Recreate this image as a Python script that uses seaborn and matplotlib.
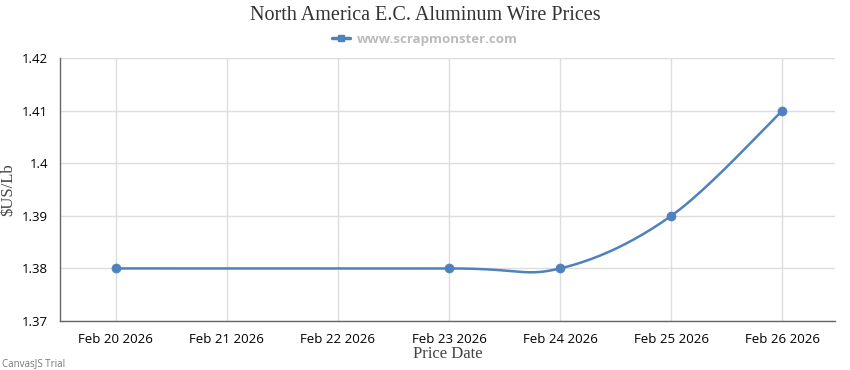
import numpy as np
import pandas as pd
import matplotlib
matplotlib.use("Agg")
import matplotlib.pyplot as plt
import matplotlib.dates as mdates
from matplotlib.lines import Line2D
import seaborn as sns

# data
dates = ["2026-02-20", "2026-02-23", "2026-02-24", "2026-02-25", "2026-02-26"]
prices = [1.38, 1.38, 1.38, 1.39, 1.41]
tick_dates = ["2026-02-20", "2026-02-21", "2026-02-22", "2026-02-23",
              "2026-02-24", "2026-02-25", "2026-02-26"]
y_ticks = [1.37, 1.38, 1.39, 1.40, 1.41, 1.42]
y_labels = ["1.37", "1.38", "1.39", "1.4", "1.41", "1.42"]

data = pd.DataFrame({"date": pd.to_datetime(dates), "price": prices})
color = "#4f81bc"

# spline line like CanvasJS (Catmull-Rom -> cubic bezier segments)
xs = mdates.date2num(data["date"])
ys = np.array(prices)
px, py = [], []
n = len(xs)
t = np.linspace(0, 1, 40)
for i in range(n - 1):
    i0, i3 = max(i - 1, 0), min(i + 2, n - 1)
    p0 = np.array([xs[i], ys[i]])
    p3 = np.array([xs[i + 1], ys[i + 1]])
    c1 = p0 + (np.array([xs[i + 1], ys[i + 1]]) - np.array([xs[i0], ys[i0]])) / 6
    c2 = p3 - (np.array([xs[i3], ys[i3]]) - np.array([xs[i], ys[i]])) / 6
    bx = (1-t)**3*p0[0] + 3*(1-t)**2*t*c1[0] + 3*(1-t)*t**2*c2[0] + t**3*p3[0]
    by = (1-t)**3*p0[1] + 3*(1-t)**2*t*c1[1] + 3*(1-t)*t**2*c2[1] + t**3*p3[1]
    px.extend(bx)
    py.extend(by)
curve = pd.DataFrame({"date": mdates.num2date(px), "price": py})

sns.set_style("white")
plt.rcParams['font.family'] = ['Open Sans', 'DejaVu Sans']

fig = plt.figure(figsize=(8.5, 3.7), dpi=100)
ax = fig.add_axes([0.0706, 0.1324, 0.9114, 0.7106])

sns.lineplot(data=curve, x="date", y="price", sort=False, color=color,
             linewidth=1.8, ax=ax, zorder=3)
sns.scatterplot(data=data, x="date", y="price", color=color, s=42,
                edgecolor=color, ax=ax, zorder=4)

ax.set_ylim(1.37, 1.42)
ax.set_yticks(y_ticks)
ax.set_yticklabels(y_labels)
td = pd.to_datetime(tick_dates)
ax.set_xticks(td)
ax.set_xticklabels([d.strftime("%b %d %Y") for d in td])
ax.set_xlim(td[0] - pd.Timedelta(hours=12), td[-1] + pd.Timedelta(hours=11.3))

ax.grid(True, color="#dddddd", linewidth=1)
ax.set_axisbelow(True)
for s in ["top", "right"]:
    ax.spines[s].set_visible(False)
for s in ["left", "bottom"]:
    ax.spines[s].set_color("#666666")
    ax.spines[s].set_linewidth(1)
ax.tick_params(axis="both", length=5, color="#666666", labelsize=9.5,
               labelcolor="#000000", direction="out", width=1)

ax.set_xlabel("Price Date", family="Liberation Serif", fontsize=12,
              color="#444444", labelpad=0)
ax.set_ylabel("$US/Lb", family="Liberation Serif", fontsize=12,
              color="#444444", labelpad=4)

fig.suptitle("North America E.C. Aluminum Wire Prices", family="Liberation Serif",
             fontsize=14.5, color="#333333", y=0.985)
handle = Line2D([0], [0], color=color, linewidth=2.5, marker="s", markersize=5)
fig.legend(handles=[handle], labels=["www.scrapmonster.com"], loc="center",
           bbox_to_anchor=(0.5, 0.893), frameon=False, handlelength=1.4,
           handletextpad=0.5, prop={"family": "Open Sans", "weight": "bold", "size": 9.5},
           labelcolor="#bbbbbb")
fig.text(0.002, 0.01, "CanvasJS Trial", fontsize=7, color="#777777")

fig.savefig("out.png", dpi=100)
